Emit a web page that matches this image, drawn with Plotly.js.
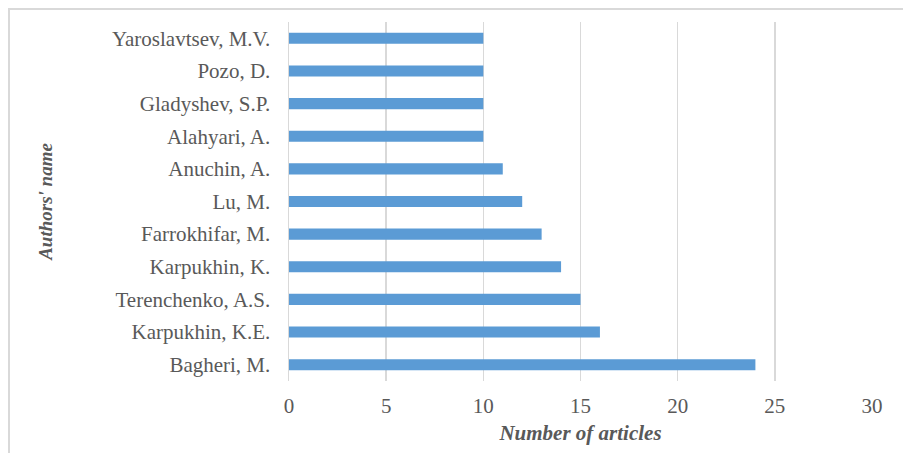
<!DOCTYPE html>
<html>
<head>
<meta charset="utf-8">
<script src="https://cdn.plot.ly/plotly-3.0.1.min.js"></script>
<style>
  html, body { margin: 0; padding: 0; background: #ffffff; }
  #wrap { position: relative; width: 903px; height: 453px; overflow: hidden; }
  #chart { width: 903px; height: 453px; }
  #frame { position: absolute; left: 8px; top: 8px; right: -10px; bottom: -10px;
           border-left: 2px solid #d9d9d9; border-top: 2px solid #d9d9d9; pointer-events: none; }
</style>
</head>
<body>
<div id="wrap">
  <div id="chart"></div>
  <div id="frame"></div>
</div>
<script>
// Data (bottom to top as drawn)
const authors = [
  "Bagheri, M.",
  "Karpukhin, K.E.",
  "Terenchenko, A.S.",
  "Karpukhin, K.",
  "Farrokhifar, M.",
  "Lu, M.",
  "Anuchin, A.",
  "Alahyari, A.",
  "Gladyshev, S.P.",
  "Pozo, D.",
  "Yaroslavtsev, M.V."
];
const articles = [24, 16, 15, 14, 13, 12, 11, 10, 10, 10, 10];
const xTickValues = [0, 5, 10, 15, 20, 25, 30];

const serif = "Liberation Serif";
const textColor = "#595959";
const gridColor = "#d9d9d9";

const trace = {
  type: "bar",
  orientation: "h",
  x: articles,
  y: authors,
  marker: { color: "#5b9bd5", line: { width: 0 } },
  hoverinfo: "x+y"
};

const layout = {
  width: 903,
  height: 453,
  margin: { l: 289.3, r: 31.3, t: 22, b: 72 },
  paper_bgcolor: "#ffffff",
  plot_bgcolor: "#ffffff",
  bargap: 0.66,
  showlegend: false,
  font: { family: serif, size: 21, color: textColor },
  xaxis: {
    range: [0, 30],
    tickvals: xTickValues,
    ticktext: xTickValues.map(String),
    showgrid: true,
    gridcolor: gridColor,
    gridwidth: 1.5,
    zeroline: false,
    showline: false,
    ticks: "",
    ticklabelstandoff: 10,
    tickfont: { family: serif, size: 21, color: textColor },
    title: {
      text: "<b><i>Number of articles</i></b>",
      font: { family: serif, size: 21, color: textColor },
      standoff: 8
    },
    fixedrange: true
  },
  yaxis: {
    type: "category",
    categoryorder: "array",
    categoryarray: authors,
    showgrid: false,
    zeroline: false,
    showline: true,
    linecolor: gridColor,
    linewidth: 1.5,
    ticks: "",
    ticklabelstandoff: 13,
    tickfont: { family: serif, size: 21, color: textColor },
    title: {
      text: "<b><i>Authors' name</i></b>",
      font: { family: serif, size: 19, color: textColor },
      standoff: 54
    },
    fixedrange: true
  }
};

Plotly.newPlot("chart", [trace], layout, { displayModeBar: false, staticPlot: true });
</script>
</body>
</html>
